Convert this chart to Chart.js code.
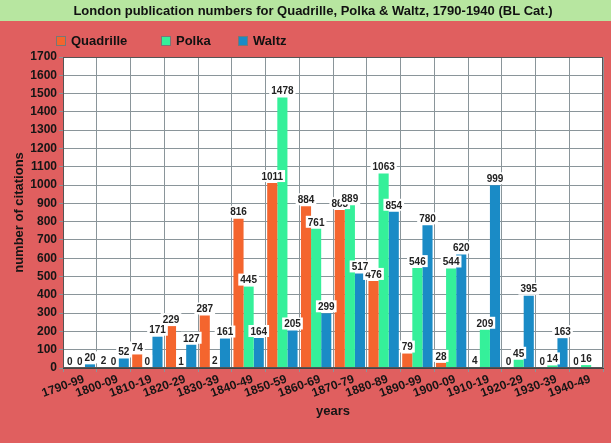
<!DOCTYPE html>
<html>
<head>
<meta charset="utf-8">
<script src="https://cdn.jsdelivr.net/npm/chart.js@4.4.1/dist/chart.umd.min.js"></script>
<style>
  html, body { margin: 0; padding: 0; background: #e05f5f; }
  #wrap { width: 611px; height: 443px; position: relative; }
</style>
</head>
<body>
<div id="wrap"><canvas id="c" width="611" height="443"></canvas></div>
<script>
// Decades of publication
const decades = ['1790-99', '1800-09', '1810-19', '1820-29', '1830-39', '1840-49', '1850-59', '1860-69',
                 '1870-79', '1880-89', '1890-99', '1900-09', '1910-19', '1920-29', '1930-39', '1940-49'];

// Citation counts per decade
const quadrille = [0, 2, 74, 229, 287, 816, 1011, 884, 863, 476, 79, 28, 4, 0, 0, 0];
const polka     = [0, 0, 0, 1, 2, 445, 1478, 761, 889, 1063, 546, 544, 209, 45, 14, 16];
const waltz     = [20, 52, 171, 127, 161, 164, 205, 299, 517, 854, 780, 620, 999, 395, 163, null];

const seriesNames = ['Quadrille', 'Polka', 'Waltz'];
const yMax = 1700;
const yStep = 100;

const chartTitle = 'London publication numbers for Quadrille, Polka & Waltz, 1790-1940 (BL Cat.)';
const COLORS = ['#f4652e', '#35f09a', '#1a8bc6'];
const FONT = '"Liberation Sans", Arial, sans-serif';

// Page background, title strip, white plot area and the legend row
const framePlugin = {
  id: 'frame',
  beforeDraw(chart) {
    const { ctx, chartArea: a, width } = chart;
    ctx.save();
    ctx.fillStyle = '#e05f5f';
    ctx.fillRect(0, 0, width, chart.height);
    ctx.fillStyle = '#b7e6a0';
    ctx.fillRect(0, 0, width, 21);
    ctx.fillStyle = '#111';
    ctx.font = 'bold 13px ' + FONT;
    ctx.textAlign = 'center';
    ctx.textBaseline = 'middle';
    ctx.fillText(chartTitle, 313, 11);
    ctx.fillStyle = '#ffffff';
    ctx.fillRect(a.left, a.top, a.right - a.left, a.bottom - a.top);

    // legend
    const lx = [56, 161, 238];
    ctx.font = 'bold 13px ' + FONT;
    ctx.textAlign = 'left';
    seriesNames.forEach((n, i) => {
      ctx.fillStyle = COLORS[i];
      ctx.fillRect(lx[i], 36, 9, 9);
      ctx.strokeStyle = '#777';
      ctx.lineWidth = 1;
      ctx.strokeRect(lx[i] + 0.5, 36.5, 9, 9);
      ctx.fillStyle = '#111';
      ctx.fillText(n, lx[i] + 15, 41);
    });
    ctx.restore();
  },
  afterDraw(chart) {
    const { ctx, chartArea: a } = chart;
    ctx.save();
    ctx.strokeStyle = '#555';
    ctx.lineWidth = 1;
    ctx.strokeRect(a.left + 0.5, a.top + 0.5, a.right - a.left - 1, a.bottom - a.top - 1);
    ctx.restore();
  }
};

// Value labels in white boxes above each bar
const valueLabels = {
  id: 'valueLabels',
  afterDatasetsDraw(chart) {
    const { ctx } = chart;
    ctx.save();
    ctx.font = 'bold 10px ' + FONT;
    ctx.textAlign = 'center';
    ctx.textBaseline = 'bottom';
    chart.data.datasets.forEach((ds, di) => {
      const meta = chart.getDatasetMeta(di);
      meta.data.forEach((el, i) => {
        const v = ds.data[i];
        if (v === null || v === undefined) return;
        const txt = String(v);
        const w = ctx.measureText(txt).width;
        const yb = el.y - 2;
        ctx.fillStyle = '#ffffff';
        ctx.fillRect(el.x - w / 2 - 2, yb - 11, w + 4, 12);
        ctx.fillStyle = '#222';
        ctx.fillText(txt, el.x, yb + 1);
      });
    });
    ctx.restore();
  }
};

const seriesData = [quadrille, polka, waltz];

new Chart(document.getElementById('c'), {
  type: 'bar',
  data: {
    labels: decades,
    datasets: seriesNames.map((n, i) => ({
      label: n,
      data: seriesData[i],
      backgroundColor: COLORS[i],
      borderWidth: 0,
      categoryPercentage: 0.9,
      barPercentage: 1.0
    }))
  },
  options: {
    responsive: false,
    animation: false,
    layout: { padding: { top: 57, right: 8, bottom: 24, left: 0 } },
    plugins: {
      legend: { display: false },
      title: { display: false },
      tooltip: { enabled: false }
    },
    scales: {
      x: {
        grid: { color: '#8a959a', lineWidth: 1, tickLength: 4, offset: true },
        border: { color: '#444' },
        ticks: {
          autoSkip: false,
          color: '#151515',
          font: { family: FONT, size: 12, weight: 'bold' },
          maxRotation: 20,
          minRotation: 20,
          labelOffset: 4,
          padding: 0
        },
        title: {
          display: true,
          text: 'years',
          color: '#151515',
          font: { family: FONT, size: 13, weight: 'bold' },
          padding: { top: 0, bottom: 0 }
        },
        afterFit(s) { s.height = 443 - 24 - 368; }
      },
      y: {
        min: 0,
        max: yMax,
        grid: { color: '#8a959a', lineWidth: 1, tickLength: 4 },
        border: { color: '#444' },
        ticks: {
          autoSkip: false,
          stepSize: yStep,
          callback: v => String(v),
          color: '#151515',
          font: { family: FONT, size: 12, weight: 'bold' },
          padding: 2
        },
        title: {
          display: true,
          text: 'number of citations',
          color: '#151515',
          font: { family: FONT, size: 13, weight: 'bold' },
          padding: { top: 12, bottom: 0 }
        },
        afterFit(s) { s.width = 63; }
      }
    }
  },
  plugins: [framePlugin, valueLabels]
});
</script>
</body>
</html>
